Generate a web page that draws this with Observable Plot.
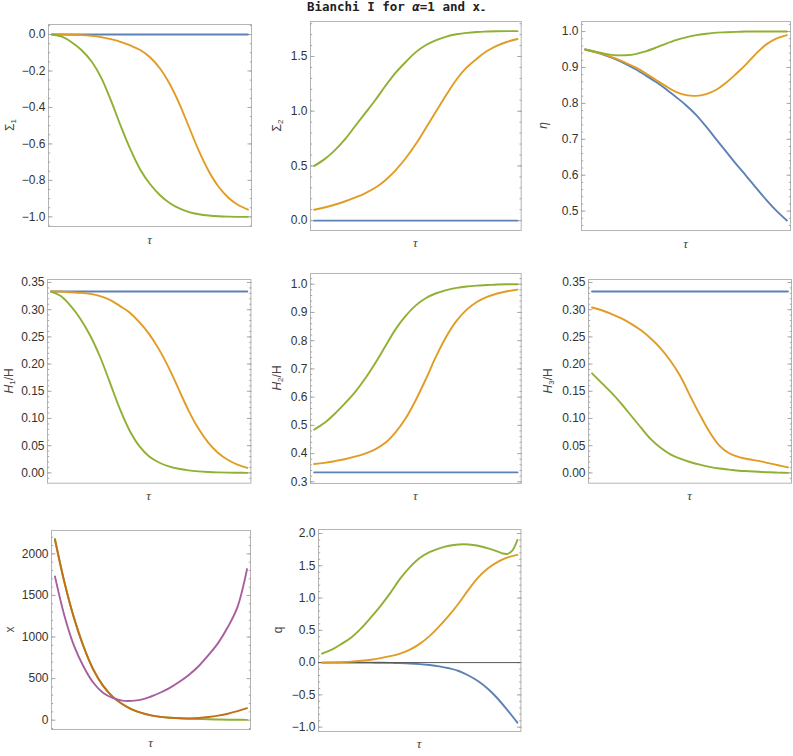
<!DOCTYPE html>
<html>
<head>
<meta charset="utf-8">
<script src="https://cdn.jsdelivr.net/npm/d3@7"></script>
<script src="https://cdn.jsdelivr.net/npm/@observablehq/plot@0.6"></script>
<style>
  body { margin: 0; background: #fff; }
  #root { position: relative; width: 793px; height: 756px; overflow: hidden; font-family: "Liberation Sans", Arial, sans-serif; }
  #title { position: absolute; left: 0; top: 0px; width: 793px; line-height: 13px; text-align: center; font: bold 12.5px/13px "DejaVu Sans Mono", monospace; color: #222; white-space: nowrap; }
  #title sub { font-size: 10px; line-height: 0; vertical-align: -2px; }
</style>
</head>
<body>
<div id="root"><div id="title">Bianchi I for <span style="font-style:italic">α</span>=1 and x<sub>-</sub></div></div>
<script>
// ---------- data ----------
const tau = [0,0.05,0.1,0.15,0.2,0.25,0.3,0.35,0.4,0.45,0.5,0.55,0.6,0.65,0.7,0.75,0.8,0.85,0.9,0.95,1];
const tauQGreen = [0,0.05,0.1,0.15,0.2,0.25,0.3,0.35,0.4,0.45,0.5,0.55,0.6,0.65,0.7,0.75,0.8,0.85,0.9,0.925,0.95,0.975,1];

// Sigma_1
const sigma1Blue   = [0,0,0,0,0,0,0,0,0,0,0,0,0,0,0,0,0,0,0,0,0];
const sigma1Orange = [0,0,-0.001,-0.003,-0.007,-0.014,-0.025,-0.04,-0.06,-0.085,-0.125,-0.185,-0.27,-0.38,-0.51,-0.64,-0.75,-0.835,-0.895,-0.935,-0.96];
const sigma1Green  = [0,-0.012,-0.042,-0.085,-0.145,-0.235,-0.36,-0.5,-0.63,-0.74,-0.82,-0.88,-0.924,-0.954,-0.974,-0.986,-0.993,-0.997,-0.999,-1.0,-1.0];
// Sigma_2
const sigma2Blue   = [0,0,0,0,0,0,0,0,0,0,0,0,0,0,0,0,0,0,0,0,0];
const sigma2Orange = [0.1,0.12,0.145,0.175,0.21,0.25,0.3,0.37,0.46,0.57,0.7,0.85,1.0,1.15,1.29,1.40,1.48,1.55,1.60,1.635,1.66];
const sigma2Green  = [0.5,0.56,0.64,0.74,0.86,0.98,1.10,1.23,1.35,1.45,1.54,1.605,1.65,1.682,1.703,1.716,1.724,1.728,1.731,1.732,1.732];
// eta
const etaBlue   = [0.95,0.943,0.934,0.923,0.91,0.895,0.878,0.86,0.84,0.818,0.795,0.768,0.735,0.70,0.665,0.63,0.597,0.563,0.53,0.50,0.474];
const etaOrange = [0.95,0.943,0.935,0.925,0.913,0.9,0.884,0.866,0.848,0.832,0.823,0.821,0.826,0.838,0.858,0.883,0.91,0.94,0.965,0.981,0.99];
const etaGreen  = [0.95,0.944,0.938,0.934,0.934,0.937,0.945,0.955,0.966,0.976,0.984,0.99,0.994,0.997,0.998,0.999,1,1,1,1,1];
// H1/H
const h1Blue   = [0.3333,0.3333,0.3333,0.3333,0.3333,0.3333,0.3333,0.3333,0.3333,0.3333,0.3333,0.3333,0.3333,0.3333,0.3333,0.3333,0.3333,0.3333,0.3333,0.3333,0.3333];
const h1Orange = [0.3333,0.3333,0.332,0.331,0.329,0.325,0.318,0.307,0.295,0.277,0.255,0.227,0.193,0.154,0.115,0.082,0.056,0.037,0.024,0.015,0.009];
const h1Green  = [0.3333,0.325,0.307,0.283,0.252,0.213,0.166,0.118,0.078,0.049,0.03,0.019,0.012,0.0075,0.0045,0.0027,0.0016,0.0009,0.0005,0.0002,0];
// H2/H
const h2Blue   = [0.3333,0.3333,0.3333,0.3333,0.3333,0.3333,0.3333,0.3333,0.3333,0.3333,0.3333,0.3333,0.3333,0.3333,0.3333,0.3333,0.3333,0.3333,0.3333,0.3333,0.3333];
const h2Orange = [0.363,0.367,0.373,0.38,0.389,0.4,0.415,0.438,0.475,0.525,0.59,0.665,0.745,0.815,0.87,0.91,0.937,0.955,0.967,0.975,0.981];
const h2Green  = [0.485,0.508,0.54,0.577,0.617,0.665,0.72,0.78,0.84,0.888,0.925,0.951,0.968,0.979,0.987,0.992,0.995,0.997,0.999,1,1];
// H3/H
const h3Blue   = [0.3333,0.3333,0.3333,0.3333,0.3333,0.3333,0.3333,0.3333,0.3333,0.3333,0.3333,0.3333,0.3333,0.3333,0.3333,0.3333,0.3333,0.3333,0.3333,0.3333,0.3333];
const h3Orange = [0.304,0.299,0.292,0.284,0.274,0.262,0.247,0.229,0.206,0.178,0.142,0.107,0.075,0.05,0.036,0.029,0.025,0.022,0.018,0.014,0.01];
const h3Green  = [0.183,0.165,0.147,0.127,0.105,0.083,0.062,0.046,0.034,0.026,0.02,0.015,0.011,0.008,0.006,0.004,0.003,0.002,0.001,0.0005,0];
// x
const xGreen  = [2180,1655,1225,880,608,416,284,194,130,88,58,40,29,23,18,14,11,8,6,5,4];
const xBrown  = [2170,1650,1221,878,606,415,284,194,130,87,58,40,29,23,21,26,38,55,78,108,145];
const xPurple = [1729,1250,890,640,450,330,267,235,232,247,285,333,392,465,550,655,785,930,1120,1360,1817];
// q
const qBlue   = [0,0,0,0,0,-0.001,-0.002,-0.004,-0.008,-0.014,-0.024,-0.038,-0.058,-0.088,-0.13,-0.2,-0.29,-0.41,-0.56,-0.74,-0.93];
const qOrange = [0,0.003,0.008,0.015,0.028,0.045,0.07,0.1,0.14,0.2,0.29,0.41,0.56,0.73,0.92,1.13,1.32,1.46,1.56,1.63,1.67];
const qGreen  = [0.14,0.2,0.29,0.39,0.53,0.70,0.88,1.08,1.30,1.48,1.62,1.71,1.77,1.81,1.83,1.83,1.81,1.77,1.72,1.69,1.685,1.74,1.90];

// tick labels
const ticksSigma1 = [0,-0.2,-0.4,-0.6,-0.8,-1.0];
const ticksSigma2 = [0,0.5,1.0,1.5];
const ticksEta    = [0.5,0.6,0.7,0.8,0.9,1.0];
const ticksH13    = [0,0.05,0.1,0.15,0.2,0.25,0.3,0.35];
const ticksH2     = [0.3,0.4,0.5,0.6,0.7,0.8,0.9,1.0];
const ticksX      = [0,500,1000,1500,2000];
const ticksQ      = [-1.0,-0.5,0,0.5,1.0,1.5,2.0];

// ---------- style ----------
const C = {blue:"#5E81B5", orange:"#E19C24", green:"#8FB032", brown:"#C56E1A", purple:"#A5609D"};
const root = document.getElementById("root");

function line(t, v, color) {
  return Plot.line(t.map((x, i) => ({t: x, v: v[i]})), {x: "t", y: "v", stroke: color, strokeWidth: 1.9, curve: "catmull-rom"});
}

function panel(cfg) {
  const ML = 62, MR = 10, MT = 8, MB = 30;
  const [x0, y0, x1, y1] = cfg.frame;
  const w = x1 - x0, h = y1 - y0;
  const [lo, hi] = cfg.yDomain;
  const st = cfg.minorStep;
  const minor = d3.range(Math.ceil(lo / st - 1e-9), Math.floor(hi / st + 1e-9) + 1).map(k => k * st);
  const tickStroke = "#a8a8a8";
  const marks = [
    Plot.frame({stroke: "#b4b4b4"}),
    Plot.axisY(minor, {anchor: "left", tickSize: -2.2, fill: "none", stroke: tickStroke, label: null}),
    Plot.axisY(minor, {anchor: "right", tickSize: -2.2, fill: "none", stroke: tickStroke, label: null}),
    Plot.axisY(cfg.major, {anchor: "left", tickSize: -4.5, fill: "none", stroke: tickStroke, label: null}),
    Plot.axisY(cfg.major, {anchor: "right", tickSize: -4.5, fill: "none", stroke: tickStroke, label: null}),
    Plot.axisY(cfg.major, {anchor: "left", tickSize: 0, tickPadding: 3, tickFormat: d3.format(cfg.fmt), fill: "#333", fontSize: 12, label: null}),
    ...cfg.lines
  ];
  const svg = Plot.plot({
    width: w + ML + MR, height: h + MT + MB,
    marginLeft: ML, marginRight: MR, marginTop: MT, marginBottom: MB,
    x: {domain: [-0.018, 1.018], axis: null},
    y: {domain: cfg.yDomain},
    style: {background: "none", overflow: "visible", fontFamily: "Liberation Sans, Arial, sans-serif", fontSize: "12px"},
    marks
  });
  svg.style.position = "absolute";
  svg.style.left = (x0 - ML) + "px";
  svg.style.top = (y0 - MT) + "px";
  const sel = d3.select(svg);
  sel.append("text")
    .attr("x", ML + w / 2).attr("y", MT + h + 13)
    .attr("text-anchor", "middle").attr("dominant-baseline", "central")
    .attr("font-style", "italic").attr("fill", "#444").attr("font-size", 13)
    .attr("font-family", "Liberation Serif, DejaVu Serif, serif")
    .text("τ");
  const yl = sel.append("text")
    .attr("transform", `translate(${ML - cfg.labelOffset},${MT + h / 2}) rotate(-90)`)
    .attr("text-anchor", "middle").attr("dominant-baseline", "central")
    .attr("fill", "#444").attr("font-size", 12);
  for (const [txt, kind] of cfg.ylabel) {
    const ts = yl.append("tspan").text(txt);
    if (kind === "i") ts.attr("font-style", "italic");
    if (kind === "sub") ts.attr("font-size", 8).attr("dy", 3);
    if (kind === "after") ts.attr("dy", -3);
  }
  root.appendChild(svg);
}

panel({frame: [48, 24, 251, 226], yDomain: [-1.053, 0.055], major: ticksSigma1, minorStep: 0.05, fmt: ".1f",
  labelOffset: 38, ylabel: [["Σ", ""], ["1", "sub"]],
  lines: [line(tau, sigma1Blue, C.blue), line(tau, sigma1Orange, C.orange), line(tau, sigma1Green, C.green)]});

panel({frame: [310, 21, 520.7, 230], yDomain: [-0.09, 1.82], major: ticksSigma2, minorStep: 0.1, fmt: ".1f",
  labelOffset: 33, ylabel: [["Σ", ""], ["2", "sub"]],
  lines: [line(tau, sigma2Blue, C.blue), line(tau, sigma2Orange, C.orange), line(tau, sigma2Green, C.green)]});

panel({frame: [581, 21, 790, 230], yDomain: [0.446, 1.028], major: ticksEta, minorStep: 0.02, fmt: ".1f",
  labelOffset: 38, ylabel: [["η", "i"]],
  lines: [line(tau, etaBlue, C.blue), line(tau, etaOrange, C.orange), line(tau, etaGreen, C.green)]});

panel({frame: [47.3, 279, 250.7, 482.7], yDomain: [-0.019, 0.3555], major: ticksH13, minorStep: 0.01, fmt: ".2f",
  labelOffset: 38, ylabel: [["H", "i"], ["1", "sub"], ["/H", "after"]],
  lines: [line(tau, h1Blue, C.blue), line(tau, h1Orange, C.orange), line(tau, h1Green, C.green)]});

panel({frame: [310, 273.3, 520.7, 483.3], yDomain: [0.294, 1.038], major: ticksH2, minorStep: 0.02, fmt: ".1f",
  labelOffset: 33, ylabel: [["H", "i"], ["2", "sub"], ["/H", "after"]],
  lines: [line(tau, h2Blue, C.blue), line(tau, h2Orange, C.orange), line(tau, h2Green, C.green)]});

panel({frame: [587.7, 279, 790.7, 482.7], yDomain: [-0.019, 0.3555], major: ticksH13, minorStep: 0.01, fmt: ".2f",
  labelOffset: 40, ylabel: [["H", "i"], ["3", "sub"], ["/H", "after"]],
  lines: [line(tau, h3Blue, C.blue), line(tau, h3Orange, C.orange), line(tau, h3Green, C.green)]});

panel({frame: [50.7, 529.5, 249.7, 728.5], yDomain: [-112, 2281], major: ticksX, minorStep: 100, fmt: "d",
  labelOffset: 41, ylabel: [["x", ""]],
  lines: [line(tau, xGreen, C.green), line(tau, xBrown, C.brown), line(tau, xPurple, C.purple)]});

panel({frame: [318.3, 529.3, 520.7, 731.3], yDomain: [-1.067, 2.062], major: ticksQ, minorStep: 0.1, fmt: ".1f",
  labelOffset: 40, ylabel: [["q", ""]],
  lines: [line(tau, qBlue, C.blue), Plot.ruleY([0], {stroke: "#555", strokeWidth: 1}), line(tau, qOrange, C.orange), line(tauQGreen, qGreen, C.green)]});
</script>
</body>
</html>
